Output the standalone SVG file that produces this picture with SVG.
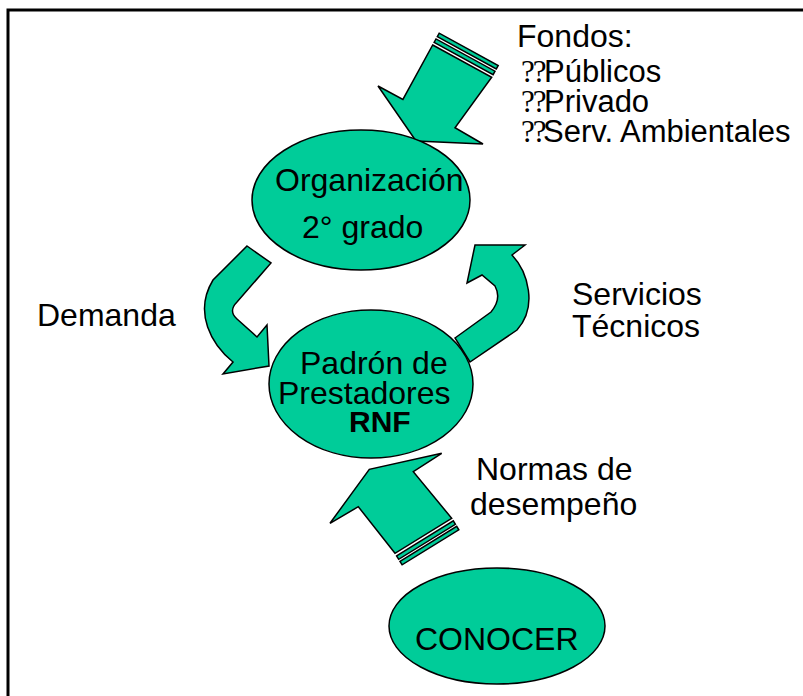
<svg xmlns="http://www.w3.org/2000/svg" width="803" height="696" viewBox="0 0 803 696">
<style>
.shape{fill:#00CC99;stroke:#000;stroke-width:1.5;stroke-linejoin:miter}
.t{font-family:"Liberation Sans",Arial,sans-serif;font-size:32px;fill:#000}
.l{font-family:"Liberation Sans",Arial,sans-serif;font-size:31px;fill:#000}
.b{font-family:"Liberation Serif","Times New Roman",serif;font-size:31px;fill:#000}
</style>
<rect x="0" y="0" width="803" height="696" fill="#fff"/>
<rect x="8" y="10" width="900" height="800" fill="none" stroke="#000" stroke-width="3"/>
<g id="connectors">
  <g id="arrow-fondos">
    <polygon class="shape" points="432.7,45 491.7,77.3 455,127.7 483,144 416,141 378,86 402.9,99.4"/>
    <polygon class="shape" points="434.1,42.4 493.1,74.7 495,71.2 436,38.9"/>
    <polygon class="shape" points="437.3,36.6 496.3,68.9 498.2,65.5 439.2,33.2"/>
  </g>
  <g id="arrow-demanda">
    <path class="shape" d="M247,246 L271,263 L237,302 Q228,311 237,319 L257,337 L267,325 L269,366 L223,374 L233,362 C212,345 193,313 213,280 Z"/>
  </g>
  <g id="arrow-servicios">
    <path class="shape" d="M455,338 L491,312 Q502,299 495,286 L482,275 L467,283 L475,245 L525,245 L512,255 C528,272 538,307 517,330 L470,362 Z"/>
  </g>
  <g id="arrow-normas">
    <polygon class="shape" points="395,553.3 358.3,506.7 330,523.3 369.3,469.3 441.7,453.3 413.3,471.7 451.7,518.3"/>
    <polygon class="shape" points="396.6,555.9 453.3,520.9 455.4,524.3 398.7,559.3"/>
    <polygon class="shape" points="400,561.4 456.7,526.4 458.8,529.8 402.1,564.8"/>
  </g>
</g>
<g id="node-organizacion">
  <ellipse class="shape" cx="361" cy="200" rx="109" ry="70"/>
  <text class="t" x="275" y="191">Organización</text>
  <text class="t" x="302" y="238">2° grado</text>
</g>
<g id="node-padron">
  <ellipse class="shape" cx="371" cy="384" rx="102" ry="74"/>
  <text class="t" x="300" y="374">Padrón de</text>
  <text class="t" x="278" y="404">Prestadores</text>
  <text class="t" x="349" y="432" style="font-weight:bold;font-size:30px">RNF</text>
</g>
<g id="node-conocer">
  <ellipse class="shape" cx="497" cy="626" rx="108" ry="58"/>
  <text class="t" x="415" y="650">CONOCER</text>
</g>
<g id="labels">
  <text class="t" x="517" y="47">Fondos:</text>
  <text class="b" x="521" y="82" letter-spacing="-2">??</text>
  <text class="l" x="544" y="82">Públicos</text>
  <text class="b" x="521" y="112" letter-spacing="-2">??</text>
  <text class="l" x="544" y="112">Privado</text>
  <text class="b" x="521" y="142" letter-spacing="-2">??</text>
  <text class="l" x="543" y="142">Serv. Ambientales</text>
  <text class="t" x="37" y="326">Demanda</text>
  <text class="t" x="572" y="305">Servicios</text>
  <text class="t" x="572" y="337">Técnicos</text>
  <text class="t" x="476" y="480">Normas de</text>
  <text class="t" x="470" y="515">desempeño</text>
</g>
</svg>
